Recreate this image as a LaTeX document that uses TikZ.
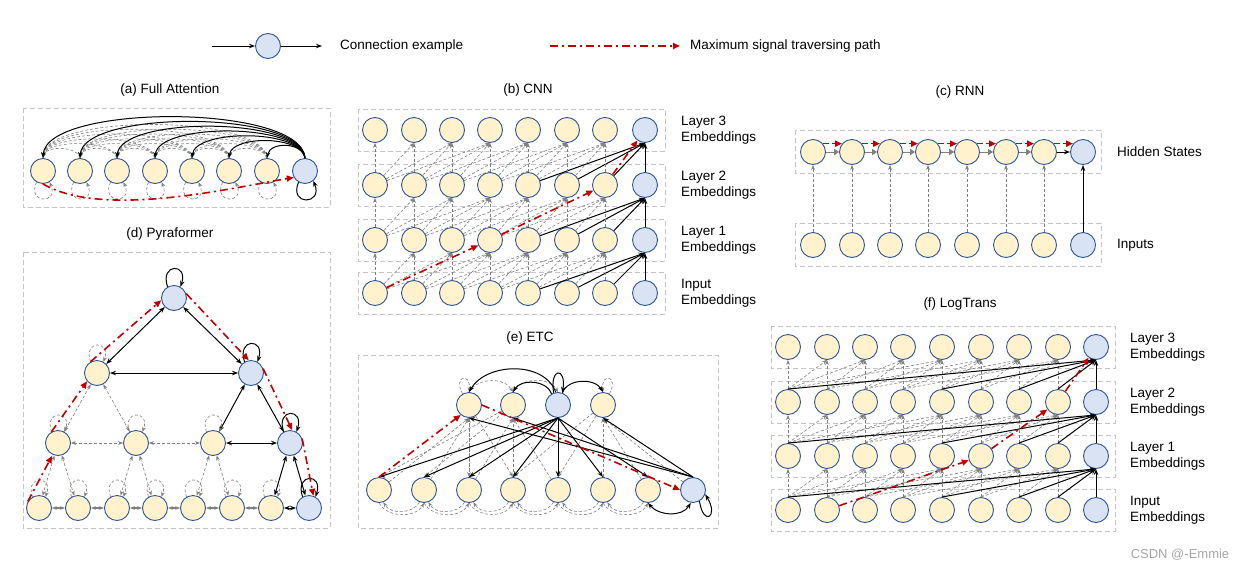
\documentclass[tikz,border=0pt]{standalone}
\usepackage{fontspec}
\setmainfont{Liberation Sans}
\usetikzlibrary{arrows.meta,calc}
\definecolor{ylw}{HTML}{FFF2CC}
\definecolor{blu}{HTML}{DAE3F3}
\definecolor{edg}{HTML}{2F5597}
\definecolor{rd}{HTML}{C00000}
\begin{document}
\begin{tikzpicture}[x=1pt,y=-1pt,
  nd/.style={circle,draw=edg,line width=0.9pt,minimum size=25pt,inner sep=0pt},
  yn/.style={nd,fill=ylw}, bn/.style={nd,fill=blu},
  blk/.style={-{Stealth[length=6pt]},line width=1pt,black},
  bb/.style={{Stealth[length=6pt]}-{Stealth[length=6pt]},line width=1pt,black},
  gr/.style={-{Stealth[length=5pt]},gray,dash pattern=on 3pt off 2pt,line width=0.6pt},
  gg/.style={{Stealth[length=5pt]}-{Stealth[length=5pt]},gray,dash pattern=on 3pt off 2pt,line width=0.6pt},
  rdp/.style={-{Triangle[length=7pt,width=6pt]},rd,dash pattern=on 8pt off 4pt on 2pt off 4pt,line width=1.6pt},
  rdd/.style={-{Triangle[length=7pt,width=6pt]},rd,dash pattern=on 6pt off 3pt,line width=1.6pt},
  box/.style={dash pattern=on 5pt off 3pt,gray!45,line width=1pt},
  ttl/.style={font=\fontsize{13.5}{15}\selectfont},
  lab/.style={font=\fontsize{13.5}{16}\selectfont,align=left,anchor=west,inner sep=1pt}]
\useasboundingbox (0,0) rectangle (1242,573);
% legend
\node[bn] (lg) at (268,46) {};
\coordinate (lgA) at (212,46); \coordinate (lgB) at (322,46);
\draw[blk] (lgA) -- (lg); \draw[blk] (lg) -- (lgB);
\node[lab] (lgt) at (339,46) {Connection example};
\coordinate (lrA) at (550,46); \coordinate (lrB) at (680,46);
\draw[rdp] (lrA) -- (lrB);
\node[lab] (lrt) at (689,46) {Maximum signal traversing path};
\node[ttl] (ta) at (170,90) {(a) Full Attention};
\node[ttl] (tb) at (528,90) {(b) CNN};
\node[ttl] (tc) at (960,92) {(c) RNN};
\node[ttl] (td) at (170,234) {(d) Pyraformer};
\node[ttl] (te) at (530,338) {(e) ETC};
\node[ttl] (tf) at (960,304) {(f) LogTrans};
\node[text=gray!70,font=\fontsize{13}{15}\selectfont] (wm) at (1180,555) {CSDN @-Emmie};

% (a)
\draw[box] (23,108) rectangle (330,207);
\foreach \i/\x in {1/43,2/80,3/117,4/155,5/192,6/229,7/267} \node[yn] (a\i) at (\x,171) {};
\node[bn] (a8) at (305,171) {};
\foreach \j in {2,...,7}{\foreach \i in {1,...,7}{\ifnum\i<\j
  \pgfmathsetmacro\h{6+0.17*37.5*(\j-\i)}
  \draw[gr] (a\j.north) .. controls +(-3,-\h) and +(3,-\h) .. (a\i.north); \fi}}
\foreach \i in {1,...,7}{\draw[gr] (a\i.240) .. controls +(-10,22) and +(10,22) .. (a\i.300);}
\foreach \i in {1,...,7}{\pgfmathsetmacro\h{10+0.17*37.5*(8-\i)}
  \draw[blk] (a8.north) .. controls +(-3,-\h) and +(3,-\h) .. (a\i.north);}
\draw[blk] (a8.240) .. controls +(-10,24) and +(10,24) .. (a8.310);
\draw[rdp] (a1.south) .. controls +(60,35) and +(-60,10) .. (a8.210);

% (b)
\foreach \r/\y in {3/130,2/185,1/240,0/293}{\draw[box] (358,\y-21) rectangle (665,\y+21);
 \foreach \i/\x in {1/375,2/414,3/452,4/490,5/528,6/567,7/605} \node[yn] (c\r\i) at (\x,\y) {};
 \node[bn] (c\r8) at (645,\y) {};}
\foreach \r/\s in {0/1,1/2,2/3}{\foreach \i in {1,...,8}{\foreach \k in {0,...,3}{%
 \pgfmathtruncatemacro\j{\i+\k}%
 \ifnum\j<9 \ifnum\j=8 \draw[blk] (c\r\i) -- (c\s\j.south); \else \draw[gr] (c\r\i) -- (c\s\j.south); \fi\fi}}}
\draw[rdp] (c01) -- (c14); \draw[rdp] (c14) -- (c27); \draw[rdp] (c27) -- (c38);
\node[lab] (lb3) at (680,130) {Layer 3\\Embeddings};
\node[lab] (lb2) at (680,185) {Layer 2\\Embeddings};
\node[lab] (lb1) at (680,240) {Layer 1\\Embeddings};
\node[lab] (lb0) at (680,293) {Input\\Embeddings};

% (c)
\draw[box] (795,130) rectangle (1101,173);
\draw[box] (795,223) rectangle (1101,266);
\foreach \i/\x in {1/813,2/852,3/890,4/928,5/967,6/1006,7/1044}{\node[yn] (h\i) at (\x,152) {}; \node[yn] (u\i) at (\x,245) {};}
\node[bn] (h8) at (1083,152) {}; \node[bn] (u8) at (1083,245) {};
\foreach \i/\j in {1/2,2/3,3/4,4/5,5/6,6/7}{\draw[-{Triangle[length=5pt]},gray,line width=1pt] (h\i) -- (h\j); \draw[rdd] (h\i.40) -- (h\j.140);}
\draw[blk] (h7) -- (h8); \draw[rdd] (h7.40) -- (h8.140);
\foreach \i in {1,...,7} \draw[gr] (u\i) -- (h\i);
\draw[blk] (u8) -- (h8);
\node[lab] (lh) at (1116,152) {Hidden States};
\node[lab] (li) at (1116,245) {Inputs};

% (d)
\draw[box] (23,252) rectangle (330,528);
\foreach \i/\x in {1/39,2/78,3/117,4/155,5/193,6/232,7/271} \node[yn] (p0\i) at (\x,508) {};
\node[bn] (p08) at (309,508) {};
\foreach \i/\x in {1/58,2/136,3/213} \node[yn] (p1\i) at (\x,443) {};
\node[bn] (p14) at (290,443) {};
\node[yn] (p21) at (97,373) {}; \node[bn] (p22) at (251,373) {};
\node[bn] (p31) at (174,298) {};
\foreach \i/\j in {1/2,2/3,3/4,4/5,5/6,6/7}{\draw[{Stealth[length=5pt]}-{Stealth[length=5pt]},gray,line width=1.5pt] (p0\i) -- (p0\j);}
\draw[bb] (p07) -- (p08);
\draw[gg] (p11) -- (p12); \draw[gg] (p12) -- (p13); \draw[bb] (p13) -- (p14);
\draw[bb] (p21) -- (p22);
\draw[bb] (p31) -- (p21); \draw[bb] (p31) -- (p22);
\draw[gg] (p21) -- (p11); \draw[gg] (p21) -- (p12);
\draw[bb] (p22) -- (p13); \draw[bb] (p22) -- (p14);
\foreach \k/\a/\b in {1/1/2,2/3/4,3/5/6}{\draw[gg] (p1\k) -- (p0\a); \draw[gg] (p1\k) -- (p0\b);}
\draw[bb] (p14) -- (p07); \draw[bb] (p14) -- (p08);
\foreach \n in {p01,p02,p03,p04,p05,p06,p07,p11,p12,p13,p21}{\draw[gr] (\n.120) .. controls +(-8,-22) and +(8,-22) .. (\n.60);}
\foreach \n in {p08,p14,p22,p31}{\draw[blk] (\n.120) .. controls +(-8,-24) and +(8,-24) .. (\n.60);}
\draw[rdp] (p01.150) -- ([xshift=-6pt]p11.south);
\draw[rdp] (p11.120) -- (p21.220);
\draw[rdp] (p21.120) -- (p31.190);
\draw[rdp] (p31.20) -- (p22.100);
\draw[rdp] (p22.20) -- (p14.80);
\draw[rdp] (p14.20) -- (p08.70);

% (e)
\draw[box] (358,355) rectangle (718,528);
\foreach \i/\x in {1/469,2/513,4/603} \node[yn] (t\i) at (\x,405) {};
\node[bn] (t3) at (558,405) {};
\foreach \i/\x in {1/379,2/424,3/469,4/513,5/558,6/603,7/648} \node[yn] (e\i) at (\x,490) {};
\node[bn] (e8) at (693,490) {};
\foreach \k/\a/\b/\c in {1/1/2/3,2/3/4/5,4/6/7/8}{\draw[gr] (e\a) -- (t\k.south); \draw[gr] (e\b) -- (t\k.south); \draw[gr] (e\c) -- (t\k.south);}
\foreach \k/\a/\b in {1/3/4,2/1/2,4/4/5}{\draw[gr] (t\k) -- (e\a.north); \draw[gr] (t\k) -- (e\b.north);}
\foreach \i/\j in {1/2,2/3,3/4,4/5,5/6,6/7}{\draw[gr] (e\i.south) to[out=-60,in=-120] (e\j.south); \draw[gr] (e\j.250) to[out=-120,in=-60] (e\i.290);}
\foreach \i/\j in {1/2,2/3}{\draw[gr] (t\i.north) to[out=60,in=120] (t\j.north);}
\draw[gr] (t1.120) .. controls +(-10,-18) and +(2,-20) .. (t1.90);
\draw[gr] (t4.60) .. controls +(10,-18) and +(-2,-20) .. (t4.90);
\foreach \i in {1,...,7} \draw[blk] (t3.south) -- (e\i.north);
\foreach \i in {1,2,4} \draw[blk] (e8.north) -- (t\i.south);
\draw[blk] (t3.100) to[out=110,in=60] (t1.north);
\draw[blk] (t3.120) to[out=110,in=60] (t2.north);
\draw[blk] (t3.70) to[out=70,in=120] (t4.north);
\draw[blk] (t3.110) .. controls +(-4,-26) and +(4,-26) .. (t3.70);
\draw[{Stealth[length=6pt]}-{Stealth[length=6pt]},line width=1pt] (e7.south) to[out=-50,in=-120] (e8.260);
\draw[blk] (e8.300) .. controls +(4,26) and +(14,22) .. (e8.340);
\draw[rdp] (e1.north) -- (t1.230);
\draw[rdp] (t1.east) -- (e8.west);

% (f)
\foreach \r/\y in {3/347,2/402,1/456,0/510}{\draw[box] (771,\y-21) rectangle (1115,\y+21);
 \foreach \i/\x in {1/788,2/827,3/865,4/903,5/942,6/981,7/1019,8/1058} \node[yn] (l\r\i) at (\x,\y) {};
 \node[bn] (l\r9) at (1096,\y) {};}
\foreach \r/\s in {0/1,1/2,2/3}{\foreach \j in {1,...,9}{\foreach \d in {0,1,2,4,8}{%
 \pgfmathtruncatemacro\i{\j-\d}%
 \ifnum\i>0 \ifnum\j=9 \draw[blk] (l\r\i.north) -- (l\s\j.south); \else \draw[gr] (l\r\i.north) -- (l\s\j.south); \fi\fi}}}
\draw[rdp] (l02) -- (l16); \draw[rdp] (l16) -- (l28); \draw[rdp] (l28) -- (l39);
\node[lab] (lf3) at (1129,347) {Layer 3\\Embeddings};
\node[lab] (lf2) at (1129,402) {Layer 2\\Embeddings};
\node[lab] (lf1) at (1129,456) {Layer 1\\Embeddings};
\node[lab] (lf0) at (1129,510) {Input\\Embeddings};
\end{tikzpicture}
\end{document}
